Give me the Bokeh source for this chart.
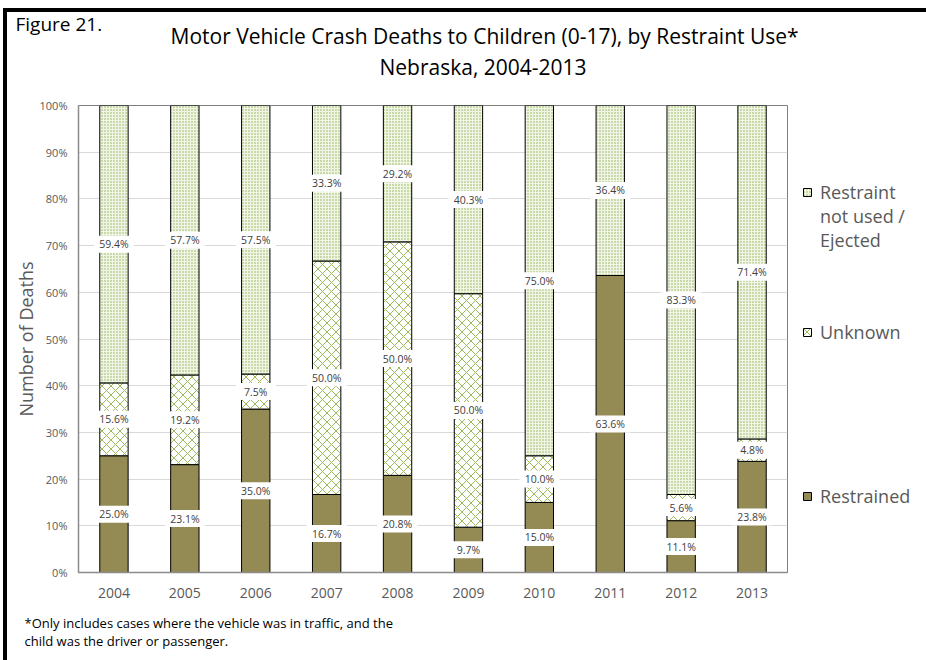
import numpy as np
from bokeh.plotting import figure
from bokeh.models import (ColumnDataSource, Legend, LegendItem, FixedTicker,
                          PrintfTickFormatter, Range1d, Title)
from bokeh.embed import file_html
from bokeh.resources import INLINE
from bokeh.core.properties import value

# ---------------- data ----------------
years = ["2004", "2005", "2006", "2007", "2008", "2009", "2010", "2011", "2012", "2013"]
restrained = [25.0, 23.1, 35.0, 16.7, 20.8, 9.7, 15.0, 63.6, 11.1, 23.8]
unknown = [15.6, 19.2, 7.5, 50.0, 50.0, 50.0, 10.0, 0.0, 5.6, 4.8]
not_used = [59.4, 57.7, 57.5, 33.3, 29.2, 40.3, 75.0, 36.4, 83.3, 71.4]
y_ticks = [0, 10, 20, 30, 40, 50, 60, 70, 80, 90, 100]
series_names = ["Restrained", "Unknown", "Restraint\nnot used /\nEjected"]

title_1 = "Motor Vehicle Crash Deaths to Children (0-17), by Restraint Use*"
title_2 = "Nebraska, 2004-2013"
fig_label = "Figure 21."
foot_text = "*Only includes cases where the vehicle was in traffic, and the\nchild was the driver or passenger."
y_label = "Number of Deaths"

FONT = "Open Sans"
GRAY = "#595959"

r = np.array(restrained)
u = np.array(unknown)
n = np.array(not_used)

src = ColumnDataSource(dict(
    x=years,
    r0=np.zeros_like(r), r1=r,
    u0=r, u1=r + u,
    n0=r + u, n1=r + u + n,
))

p = figure(x_range=years, y_range=Range1d(0, 100),
           frame_width=709, frame_height=467,
           output_backend="svg", toolbar_location=None,
           min_border_left=71, min_border_right=135,
           min_border_top=92, min_border_bottom=81,
           background_fill_color="white", border_fill_color="white")
p.styles = {"border-left": "4px solid black", "border-top": "4px solid black",
            "margin-left": "3px", "margin-top": "8px"}

p.outline_line_color = "#7F7F7F"
p.outline_line_width = 1

W = 0.4
rr = p.vbar(x="x", bottom="r0", top="r1", width=W, source=src,
            fill_color="#948A54", line_color="black", line_width=1)
ru = p.vbar(x="x", bottom="u0", top="u1", width=W, source=src,
            fill_color="white", line_color="black", line_width=1,
            hatch_pattern="diagonal_cross", hatch_color="#9BBB59",
            hatch_scale=9, hatch_weight=1)
rn = p.vbar(x="x", bottom="n0", top="n1", width=W, source=src,
            fill_color="#F0F5E6", line_color="black", line_width=1,
            hatch_pattern="dot", hatch_color="#8FAF4F",
            hatch_scale=3, hatch_weight=1)

# ---------- data labels ----------
lx, ly, lt = [], [], []
for vals, base in ((r, np.zeros_like(r)), (u, r), (n, r + u)):
    for i, v in enumerate(vals):
        if v > 0:
            lx.append(years[i])
            ly.append(base[i] + v / 2.0)
            lt.append(f"{v:.1f}%")
lsrc = ColumnDataSource(dict(x=lx, y=ly, t=lt))
p.rect(x="x", y="y", width=40, height=17, width_units="screen", height_units="screen",
       source=lsrc, fill_color="white", line_color=None)
p.text(x="x", y="y", text="t", source=lsrc, text_align="center", text_baseline="middle",
       text_font=value(FONT), text_font_size="10.5px", text_color="#404040")

# ---------- axes / grid ----------
p.yaxis.ticker = FixedTicker(ticks=y_ticks)
p.yaxis.formatter = PrintfTickFormatter(format="%d%%")
for ax in (p.xaxis[0], p.yaxis[0]):
    ax.major_tick_line_color = None
    ax.minor_tick_line_color = None
    ax.axis_line_color = "#8C8C8C"
    ax.axis_line_width = 1.5
    ax.major_label_text_color = GRAY
    ax.major_label_text_font = FONT
p.yaxis.major_label_text_font_size = "11px"
p.yaxis.major_label_standoff = 5
p.xaxis.major_label_text_font_size = "14px"
p.xaxis.major_label_standoff = 9
p.yaxis.axis_label = y_label
p.yaxis.axis_label_text_font = FONT
p.yaxis.axis_label_text_font_size = "18px"
p.yaxis.axis_label_text_font_style = "normal"
p.yaxis.axis_label_text_color = GRAY
p.yaxis.axis_label_standoff = -1

p.xgrid.grid_line_color = None
p.ygrid.ticker = FixedTicker(ticks=y_ticks)
p.ygrid.grid_line_color = "#D9D9D9"
p.ygrid.grid_line_width = 1

# ---------- legend (right panel) ----------
lab_notused = " \n \n" + series_names[2]
lab_unknown = series_names[1]
lab_restr = " \n \n \n" + series_names[0] + "\n \n \n "
legend = Legend(items=[LegendItem(label=lab_notused, renderers=[rn]),
                       LegendItem(label=lab_unknown, renderers=[ru]),
                       LegendItem(label=lab_restr, renderers=[rr])],
                location=(15, -8), orientation="vertical", margin=0, padding=0,
                spacing=68, border_line_color=None, background_fill_alpha=0,
                glyph_width=10, glyph_height=10, label_standoff=8,
                label_text_font=FONT, label_text_font_size="18px",
                label_text_color=GRAY, label_text_line_height=1.48)
p.add_layout(legend, "right")

# ---------- titles / notes (stacked outward from the plot) ----------
t2 = Title(text=title_2 + "\n ", align="left", offset=301, standoff=30,
           text_font=FONT, text_font_size="21px", text_font_style="normal",
           text_color="black", text_line_height=0.357)
p.add_layout(t2, "above")
t1 = Title(text=title_1, align="left", offset=92, standoff=-28,
           text_font=FONT, text_font_size="21px", text_font_style="normal",
           text_color="black")
p.add_layout(t1, "above")
tf = Title(text=fig_label, align="left", offset=-63, standoff=-7,
           text_font=FONT, text_font_size="19px", text_font_style="normal",
           text_color="black")
p.add_layout(tf, "above")
foot = Title(text=foot_text, align="left", offset=-54, standoff=22,
             text_font=FONT, text_font_size="13px", text_font_style="normal",
             text_color="black", text_line_height=1.034)
p.add_layout(foot, "below")

open("out.html", "w").write(file_html(p, INLINE))
